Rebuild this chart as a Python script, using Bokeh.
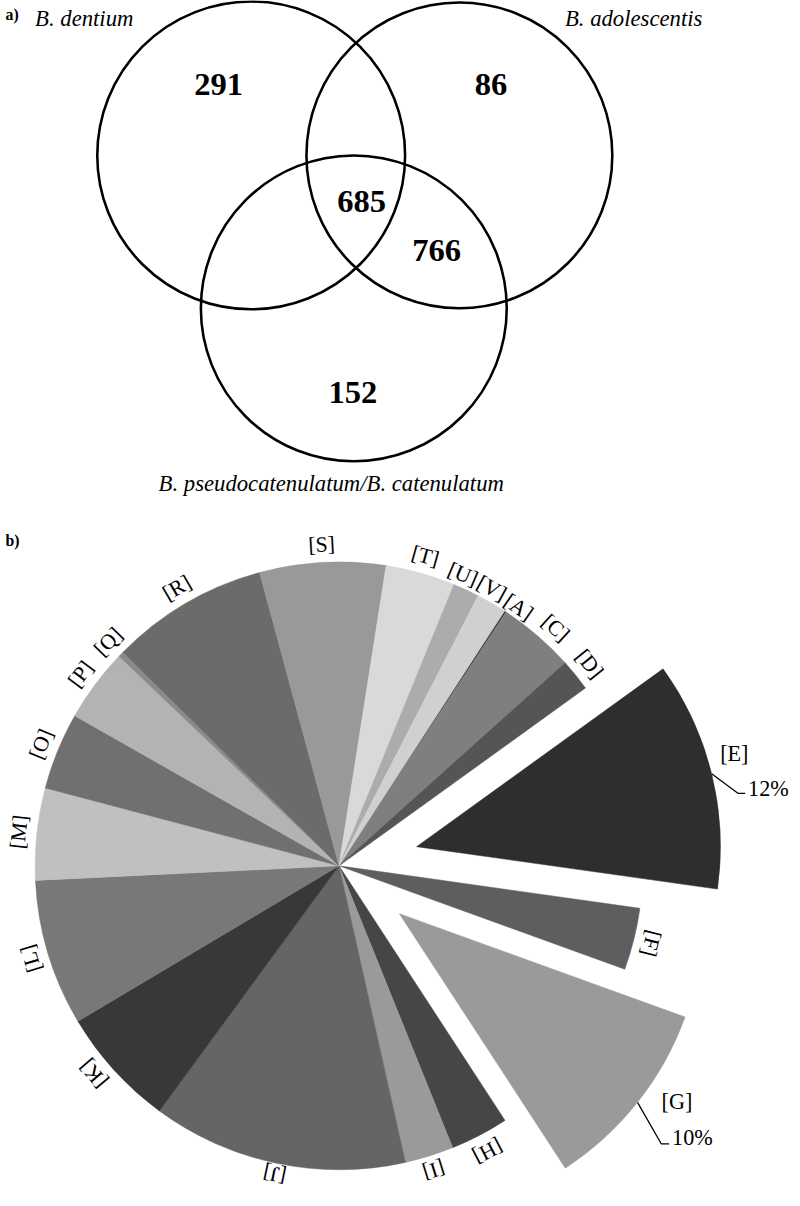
import math
from bokeh.plotting import figure
from bokeh.models import Range1d, ColumnDataSource
from bokeh.embed import file_html
from bokeh.resources import INLINE
from bokeh.core.properties import value

# ---------------- data ----------------
venn_sets = ["B. dentium", "B. adolescentis", "B.  pseudocatenulatum/B. catenulatum"]
venn_regions = ["dentium only", "adolescentis only", "all three",
                "adolescentis & pseudocatenulatum", "pseudocatenulatum only"]
venn_counts = [291, 86, 685, 766, 152]

cog_categories = ["A", "C", "D", "E", "F", "G", "H", "I", "J", "K",
                  "L", "M", "O", "P", "Q", "R", "S", "T", "U", "V"]
cog_percent = [0.1, 4.1, 1.7, 12.2, 3.3, 10.3, 3.1, 2.6, 13.6, 6.4,
               7.8, 4.9, 4.1, 3.9, 0.3, 8.4, 6.7, 3.7, 1.4, 1.6]
cog_gray = ["#3a3a3a", "#7f7f7f", "#555555", "#2e2e2e", "#5e5e5e", "#9a9a9a",
            "#464646", "#9a9a9a", "#656565", "#383838", "#787878", "#c0c0c0",
            "#707070", "#b3b3b3", "#8a8a8a", "#6b6b6b", "#999999", "#d9d9d9",
            "#acacac", "#d0d0d0"]
callout_pct = {"E": "12%", "G": "10%"}

# ---------------- layout (reference pixel units) ----------------
FIG_W, FIG_H = 792, 1190
S = 0.9867          # reference px -> screen px
XOFF = 5            # screen px
FONT = value("Liberation Serif")


def Y(y):
    return -y


def fs(px):
    return f"{px * S:.1f}px"


p = figure(width=FIG_W, height=FIG_H, output_backend="svg", toolbar_location=None,
           x_range=Range1d(-XOFF / S, (FIG_W - XOFF) / S),
           y_range=Range1d(-FIG_H / S, 0),
           x_axis_location=None, y_axis_location=None, min_border=0)
p.grid.visible = False
p.outline_line_color = None
p.background_fill_color = "white"

# ---------------- a) Venn ----------------
venn_cx = [249, 460, 353]
venn_cy = [157, 157, 312]
venn_r = [156, 155, 155]
p.circle(x=venn_cx, y=[Y(v) for v in venn_cy], radius=venn_r, fill_color=None,
         line_color="black", line_width=2.6 * S)

num_pos = [(216, 85), (492, 85), (361, 204), (437, 253), (352, 397)]
p.text(x=[q[0] for q in num_pos], y=[Y(q[1]) for q in num_pos],
       text=[str(v) for v in venn_counts], text_font=FONT, text_font_style="bold",
       text_font_size=fs(33), text_align="center", text_baseline="middle",
       text_color="black")

set_pos = [(30, 18, "left"), (567, 18, "left"), (333, 490, "center")]
for name, (sx, sy, al) in zip(venn_sets, set_pos):
    p.text(x=[sx], y=[Y(sy)], text=[name], text_font=FONT, text_font_style="italic",
           text_font_size=fs(23), text_align=al, text_baseline="middle",
           text_color="black")

p.text(x=[0, 0], y=[Y(14), Y(547)], text=["a)", "b)"], text_font=FONT,
       text_font_style="bold", text_font_size=fs(16), text_align="left",
       text_baseline="middle", text_color="black")

# ---------------- b) pie ----------------
PIE_CX, PIE_CY, PIE_R = 338, 877, 308
START_DEG = 57.0
EXPLODE = {"E": 81, "G": 78}
LABEL_R = 326
LABEL_NUDGE = {"U": 1.7, "V": 1.3, "A": -1.6, "C": -1.6, "K": -2.0}
LABEL_R_ADJ = {"U": -5, "V": -5, "A": -7, "J": -7, "I": -3}
CALLOUT = {"E": dict(elbow=(27, 20), tail=7, name=(23, -20), pct_dy=-5),
           "G": dict(elbow=(24, 42), tail=8, name=(40, -1), pct_dy=-6)}

total = sum(cog_percent)
wx, wy, ws, we, wc = [], [], [], [], []
lx, ly, lt, la = [], [], [], []
cum = 0.0
for cat, pct, col in zip(cog_categories, cog_percent, cog_gray):
    span = pct / total * 360.0
    hi = START_DEG - cum
    lo = hi - span
    cum += span
    mid = (hi + lo) / 2.0
    m = math.radians(mid)
    off = EXPLODE.get(cat, 0)
    cx = PIE_CX + off * math.cos(m)
    cy = Y(PIE_CY) + off * math.sin(m)
    wx.append(cx); wy.append(cy)
    ws.append(math.radians(lo)); we.append(math.radians(hi)); wc.append(col)
    if cat in CALLOUT:
        c = CALLOUT[cat]
        px0 = cx + PIE_R * math.cos(m)
        py0 = cy + PIE_R * math.sin(m)
        ex, ey = px0 + c["elbow"][0], py0 - c["elbow"][1]
        p.line(x=[px0, ex, ex + c["tail"]], y=[py0, ey, ey], line_color="black",
               line_width=1.3 * S)
        p.text(x=[px0 + c["name"][0]], y=[py0 - c["name"][1]], text=[f"[{cat}]"],
               text_font=FONT, text_font_size=fs(22.5), text_align="center",
               text_baseline="middle", text_color="black")
        p.text(x=[ex + c["tail"] + 3], y=[ey - c["pct_dy"]], text=[callout_pct[cat]],
               text_font=FONT, text_font_size=fs(22.5), text_align="left",
               text_baseline="middle", text_color="black")
    else:
        la_deg = mid + LABEL_NUDGE.get(cat, 0.0)
        r = LABEL_R + LABEL_R_ADJ.get(cat, 0)
        a = math.radians(la_deg)
        lx.append(PIE_CX + r * math.cos(a))
        ly.append(Y(PIE_CY) + r * math.sin(a))
        lt.append(f"[{cat}]")
        la.append(math.radians(la_deg - 90.0))

src = ColumnDataSource(dict(x=wx, y=wy, start=ws, end=we, color=wc))
p.wedge(x="x", y="y", radius=PIE_R, start_angle="start", end_angle="end",
        direction="anticlock", fill_color="color", line_color="color",
        line_width=0.5, source=src)

p.text(x=lx, y=ly, text=lt, angle=la, text_font=FONT, text_font_size=fs(22),
       text_align="center", text_baseline="middle", text_color="black")

open("out.html", "w").write(file_html(p, INLINE))
